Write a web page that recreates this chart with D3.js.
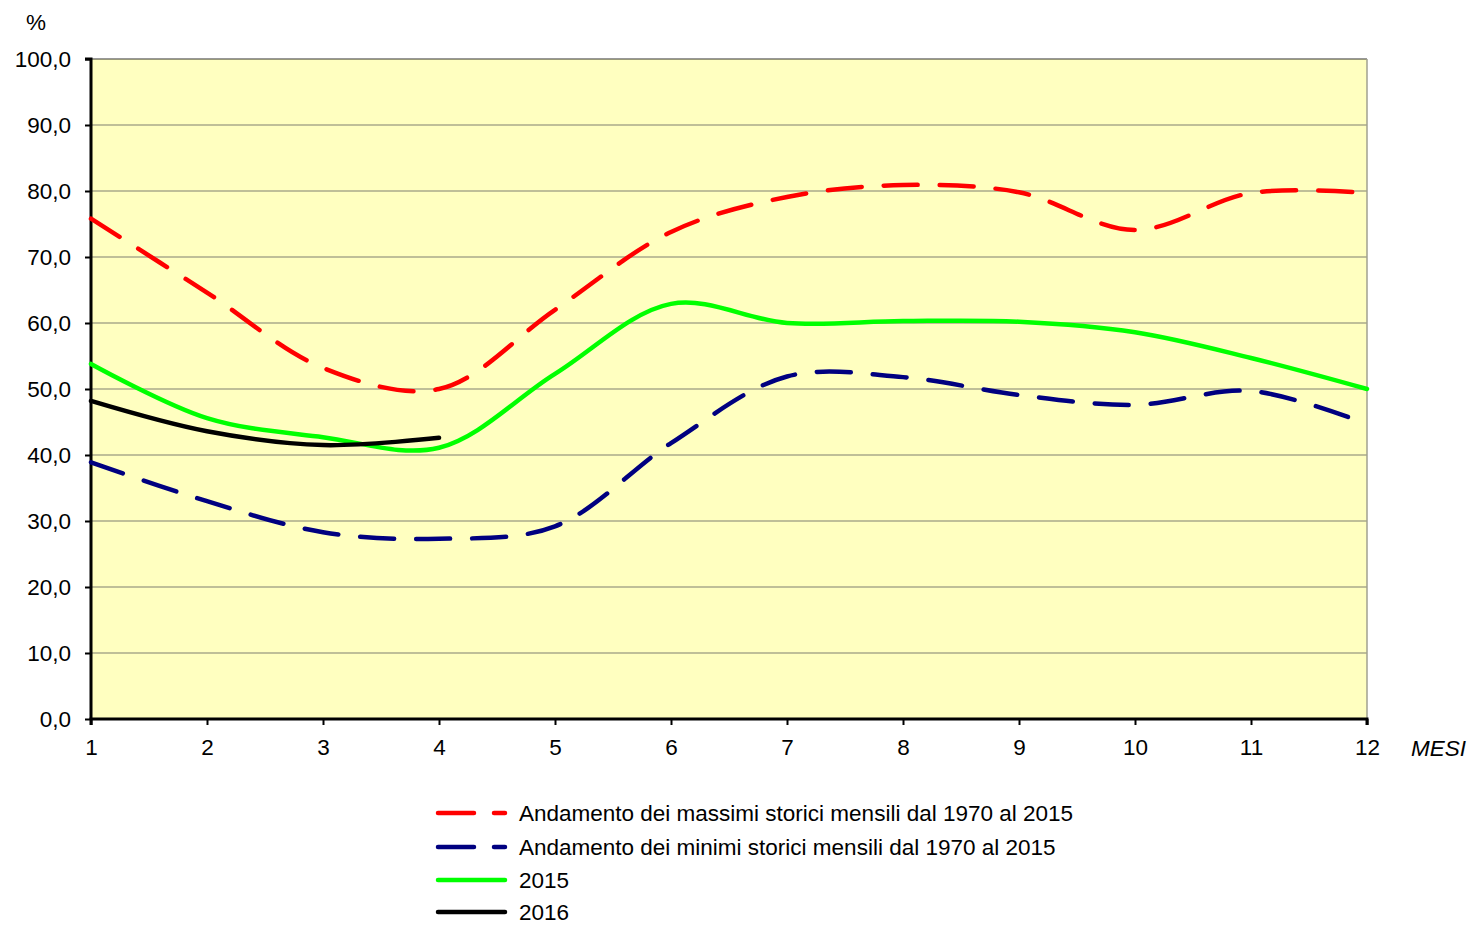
<!DOCTYPE html>
<html><head><meta charset="utf-8">
<script src="https://cdn.jsdelivr.net/npm/d3@7"></script>
<style>body{margin:0;background:#fff;}svg{display:block;font-family:"Liberation Sans",Arial,sans-serif;}</style>
</head><body>
<svg id="c" width="1467" height="925"></svg>
<script>
const months = [1,2,3,4,5,6,7,8,9,10,11,12];
const yTicks = [0,10,20,30,40,50,60,70,80,90,100];
const maxStorici = [75.8,64.6,53.2,50.0,62.0,73.8,79.1,80.9,79.8,74.1,79.7,79.7];
const minStorici = [38.9,33.0,28.3,27.3,29.2,41.8,51.9,51.8,49.1,47.6,49.7,44.7];
const y2015 = [53.8,45.6,42.7,41.1,52.3,62.9,60.0,60.3,60.2,58.6,54.7,50.0];
const y2016 = [48.2,43.6,41.5,42.6];
const seriesNames = ["Andamento dei massimi storici mensili dal 1970 al 2015","Andamento dei minimi storici mensili dal 1970 al 2015","2015","2016"];

const L=91,R=1367,T=59,B=719;
const FS=22.5;
const svg=d3.select("#c");
const x=d3.scaleLinear().domain([1,12]).range([L,R]);
const y=d3.scaleLinear().domain([0,100]).range([B,T]);
const fmt=v=>d3.format(".1f")(v).replace(".",",");

svg.append("rect").attr("x",L).attr("y",T).attr("width",R-L).attr("height",B-T).attr("fill","#FFFFC0");
// gridlines
svg.append("g").selectAll("line").data(yTicks.filter(v=>v>0)).join("line")
  .attr("x1",L).attr("x2",R).attr("y1",d=>y(d)).attr("y2",d=>y(d))
  .attr("stroke",d=>d===100?"#333":"#808070").attr("stroke-width",1.2);
// right border
svg.append("line").attr("x1",R).attr("x2",R).attr("y1",T).attr("y2",B).attr("stroke","#a0a090").attr("stroke-width",1.5);

// axes
const yAxis=d3.axisLeft(y).tickValues(yTicks).tickFormat(fmt).tickSize(6).tickPadding(14);
const gy=svg.append("g").attr("transform",`translate(${L},0)`).call(yAxis);
const xAxis=d3.axisBottom(x).tickValues(months).tickFormat(d=>d).tickSize(6).tickPadding(14);
const gx=svg.append("g").attr("transform",`translate(0,${B})`).call(xAxis);
[gy,gx].forEach(g=>{
  g.attr("font-size",FS).attr("font-family","Liberation Sans, Arial, sans-serif");
  g.select(".domain").attr("stroke","#000").attr("stroke-width",3);
  g.selectAll(".tick line").attr("stroke","#000").attr("stroke-width",2);
  g.selectAll("text").attr("fill","#000");
});
gy.select(".domain").attr("d",`M-6,${T}H0V${B}`);
gx.select(".domain").attr("d",`M${L},6V0H${R}V6`);

svg.append("text").attr("x",26).attr("y",30).attr("font-size",FS).text("%");
svg.append("text").attr("x",1411).attr("y",756).attr("font-size",FS).attr("font-style","italic").text("MESI");

const line=d3.line().x((d,i)=>x(months[i])).y(d=>y(d)).curve(d3.curveCatmullRom.alpha(0.5));
const series=[
  {data:maxStorici,color:"#FF0000",dash:"34,22",w:4.5},
  {data:minStorici,color:"#000080",dash:"34,22",w:4.5},
  {data:y2015,color:"#00FF00",dash:null,w:4.5},
  {data:y2016,color:"#000000",dash:null,w:4.5}
];
const plot=svg.append("g");
series.forEach(s=>{
  plot.append("path").attr("d",line(s.data)).attr("fill","none").attr("stroke",s.color)
    .attr("stroke-width",s.w).attr("stroke-linecap","round").attr("stroke-linejoin","round")
    .attr("stroke-dasharray",s.dash);
});

// legend
const lg=svg.append("g");
const rows=[813,847,880,912];
series.forEach((s,i)=>{
  lg.append("line").attr("x1",438).attr("x2",505).attr("y1",rows[i]).attr("y2",rows[i])
    .attr("stroke",s.color).attr("stroke-width",s.w).attr("stroke-linecap","round")
    .attr("stroke-dasharray",s.dash?"36,20":null);
  lg.append("text").attr("x",519).attr("y",rows[i]+8).attr("font-size",FS).text(seriesNames[i]);
});
</script>
</body></html>
